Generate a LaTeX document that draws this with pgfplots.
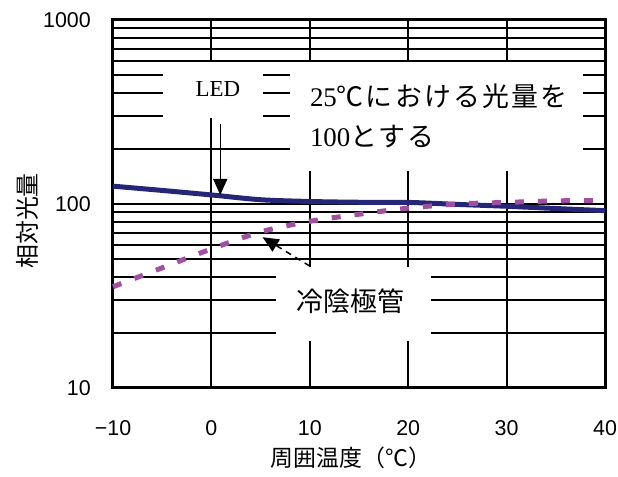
\documentclass[border=0pt]{standalone}
\usepackage{pgfplots}
\pgfplotsset{compat=1.18}
\usepackage{fontspec}
\setmainfont{Liberation Sans}
\newfontfamily\cjk{Noto Sans CJK JP}
\newfontfamily\cjkls[LetterSpace=8]{Noto Sans CJK JP}
\newfontfamily\serif{Liberation Serif}
\usetikzlibrary{arrows.meta}
\definecolor{led}{RGB}{38,38,120}
\definecolor{ccfl}{RGB}{160,80,160}
\begin{document}
\begin{tikzpicture}
\begin{axis}[name=ax, scale only axis, width=492bp, height=368bp,
 ymode=log, log basis y=10,
 xmin=-10, xmax=40, ymin=10, ymax=1000,
 xtick={-10,0,10,20,30,40}, xticklabels={−10,0,10,20,30,40},
 ytick={10,100,1000}, yticklabels={10,100,1000},
 minor ytick={20,30,40,50,60,70,80,90,200,300,400,500,600,700,800,900},
 xmajorgrids, ymajorgrids, yminorgrids,
 major grid style={black, line width=2bp},
 minor grid style={black, line width=2bp},
 major tick length=0pt, minor tick length=0pt,
 axis line style={line width=3bp},
 tick label style={font=\fontsize{21.5}{24}\selectfont},
 xticklabel style={anchor=north, inner sep=0pt, yshift=-32bp},
 yticklabel style={anchor=east, inner sep=0pt, xshift=-22bp},
 clip=false,
]
% white boxes over the grid
\fill[white] (axis cs:-4.92,590) rectangle (axis cs:5.24,292);
\fill[white] (axis cs:8,590) rectangle (axis cs:37.76,151);
\fill[white] (axis cs:6.57,45.5) rectangle (axis cs:22.3,17.9);

\addplot[led, line width=5bp, smooth] coordinates {
(-10,125) (-5,118.5) (0,112) (5,105.5) (10,103.2) (15,102.2) (20,102) (25,99.5) (30,97.2) (35,94.5) (40,92)};
\addplot[ccfl, line width=5bp, smooth, dash pattern=on 9bp off 14bp] coordinates {
(-10,35.5) (-5,45) (0,57) (5,70.5) (10,80.5) (15,88) (20,95) (25,100) (30,102) (35,104) (40,104.5)};

\draw[black, line width=1.5bp, -{Triangle[length=16bp,width=14bp]}] (axis cs:0.9,272) -- (axis cs:0.9,112);
\draw[black, line width=1.5bp, dash pattern=on 6bp off 5bp, -{Triangle[length=16bp,width=14bp]}] (axis cs:10,46) -- (axis cs:5.2,66);

\node[font=\serif\fontsize{23}{26}\selectfont] at (axis cs:0.67,419) {LED};
\node[anchor=west, inner sep=0pt, font=\fontsize{27}{30}\selectfont] at (axis cs:10,384) {\serif 25\cjkls ℃における光量を};
\node[anchor=west, inner sep=0pt, font=\fontsize{27}{30}\selectfont] at (axis cs:10,233) {\serif 100\cjkls とする};
\node[font=\cjk\fontsize{27}{30}\selectfont] at (axis cs:14.1,29.5) {冷陰極管};

\node[font=\cjk\fontsize{23}{26}\selectfont] at (axis description cs:0.484,-0.19) {周囲温度（℃）};
\node[font=\cjk\fontsize{24}{26}\selectfont, rotate=90] at (axis description cs:-0.173,0.454) {相対光量};
\end{axis}
\pgfresetboundingbox
\path (ax.south west) ++(-113bp,-89bp) rectangle ++(618bp,477bp);
\end{tikzpicture}
\end{document}
